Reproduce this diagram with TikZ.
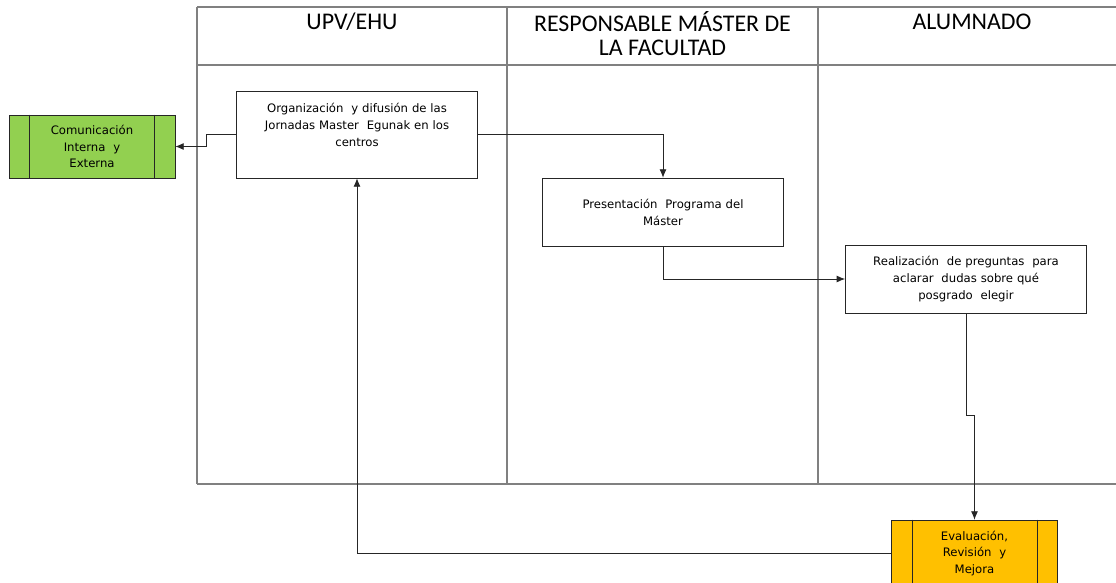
\documentclass[tikz,border=0pt]{standalone}
\usepackage{fontspec}
\setmainfont{DejaVu Sans}
\newfontfamily\headfont{Carlito}
\usetikzlibrary{arrows.meta}
\definecolor{lanegray}{HTML}{808080}
\definecolor{procgreen}{HTML}{92D050}
\definecolor{procorange}{HTML}{FFC000}
\begin{document}
\begin{tikzpicture}[
  act/.style={draw=black!85,fill=white,align=center,font=\fontsize{8.3}{12}\selectfont,minimum width=6cm,text width=5.8cm},
  proc/.style={draw=black!85,align=center,font=\fontsize{8.3}{12}\selectfont,minimum width=4.15cm,minimum height=1.6cm,text width=3.1cm},
  head/.style={align=center,font=\headfont\fontsize{17}{16.5}\selectfont},
  flow/.style={->,>={Latex[length=6pt,width=5pt]},black!85,line width=0.6pt}]
\useasboundingbox (0,0) rectangle (27.9,-14.575);
% lanes
\draw[lanegray,line width=1.2pt] (4.925,-0.175) -- (27.9,-0.175);
\draw[lanegray,line width=1.2pt] (4.925,-1.625) -- (27.9,-1.625);
\draw[lanegray,line width=1.2pt] (4.925,-12.1) -- (27.9,-12.1);
\draw[lanegray,line width=1.2pt] (4.925,-0.175) -- (4.925,-12.1);
\draw[lanegray,line width=1.2pt] (12.675,-0.175) -- (12.675,-12.1);
\draw[lanegray,line width=1.2pt] (20.45,-0.175) -- (20.45,-12.1);
\node[head] (h1)at(8.8,-0.55){UPV/EHU};
\node[head] (h2)at(16.5625,-0.84){RESPONSABLE MÁSTER DE\\LA FACULTAD};
\node[head] (h3)at(24.3,-0.55){ALUMNADO};
% activities
\node[act,minimum height=2.175cm] (org)at(8.925,-3.3625){Organización \ y difusión de las\\Jornadas Master \ Egunak en los\\centros\\[-2pt]\strut};
\node[act,minimum height=1.7cm] (pres)at(16.575,-5.3){Presentación \ Programa del\\Máster};
\node[act,minimum height=1.7cm] (real)at(24.15,-6.975){Realización \ de preguntas \ para\\aclarar \ dudas sobre qué\\posgrado \ elegir};
\node[proc,fill=procgreen,minimum height=1.575cm] (com)at(2.3,-3.6625){Comunicación\\Interna \ y\\Externa};
\node[proc,fill=procorange,minimum height=1.675cm] (eval)at(24.3625,-13.8375){Evaluación,\\Revisión \ y\\Mejora};
\draw[black!85] ([xshift=0.525cm]com.north west) -- ([xshift=0.525cm]com.south west);
\draw[black!85] ([xshift=-0.525cm]com.north east) -- ([xshift=-0.525cm]com.south east);
\draw[black!85] ([xshift=0.525cm]eval.north west) -- ([xshift=0.525cm]eval.south west);
\draw[black!85] ([xshift=-0.525cm]eval.north east) -- ([xshift=-0.525cm]eval.south east);
% flows
\draw[flow] (org.west) -- ++(-0.75,0) |- (com.east);
\draw[flow] (org.east) -| (pres.north);
\draw[flow] (pres.south) |- (real.west);
\draw[flow] (real.south) -- ++(0,-2.55) -| (eval.north);
\draw[flow] (eval.west) -| (org.south);
\end{tikzpicture}
\end{document}
